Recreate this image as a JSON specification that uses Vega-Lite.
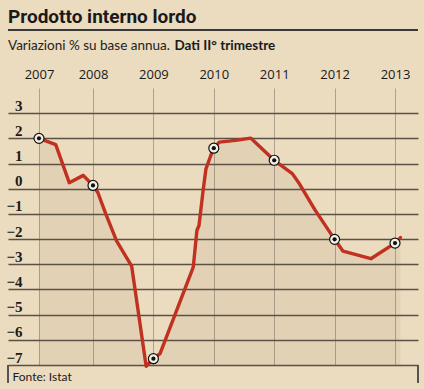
{
  "$schema": "https://vega.github.io/schema/vega-lite/v6.json",
  "autosize": "none",
  "width": 410,
  "height": 277,
  "padding": {"left": 8, "top": 88, "right": 6, "bottom": 24},
  "background": "#ebdbbf",
  "title": {
    "text": "Prodotto interno lordo",
    "subtitle": "Variazioni % su base annua.",
    "anchor": "start",
    "frame": "group",
    "font": "Roboto",
    "fontSize": 19,
    "fontWeight": "bold",
    "color": "#1a1a1a",
    "subtitleFont": "Lato",
    "subtitleFontSize": 13.5,
    "subtitleColor": "#222222",
    "subtitlePadding": 12,
    "offset": -23
  },
  "config": {"view": {"stroke": null}},
  "data": {
    "values": [
      {"anno": 2007.0, "pil": 2.0},
      {"anno": 2007.31, "pil": 1.75},
      {"anno": 2007.56, "pil": 0.24},
      {"anno": 2007.82, "pil": 0.53},
      {"anno": 2008.0, "pil": 0.13},
      {"anno": 2008.08, "pil": -0.15},
      {"anno": 2008.21, "pil": -0.99},
      {"anno": 2008.39, "pil": -2.07},
      {"anno": 2008.64, "pil": -3.07},
      {"anno": 2008.88, "pil": -7.05},
      {"anno": 2009.0, "pil": -6.75},
      {"anno": 2009.11, "pil": -6.55},
      {"anno": 2009.66, "pil": -3.11},
      {"anno": 2009.72, "pil": -1.66},
      {"anno": 2009.755, "pil": -1.46},
      {"anno": 2009.82, "pil": -0.13},
      {"anno": 2009.87, "pil": 0.79},
      {"anno": 2009.95, "pil": 1.32},
      {"anno": 2010.0, "pil": 1.61},
      {"anno": 2010.09, "pil": 1.85},
      {"anno": 2010.36, "pil": 1.92},
      {"anno": 2010.61, "pil": 2.01},
      {"anno": 2011.0, "pil": 1.13},
      {"anno": 2011.3, "pil": 0.6},
      {"anno": 2011.4, "pil": 0.26},
      {"anno": 2011.68, "pil": -0.86},
      {"anno": 2012.0, "pil": -2.01},
      {"anno": 2012.14, "pil": -2.48},
      {"anno": 2012.6, "pil": -2.78},
      {"anno": 2013.0, "pil": -2.16},
      {"anno": 2013.09, "pil": -1.94}
    ]
  },
  "encoding": {
    "x": {
      "field": "anno",
      "type": "quantitative",
      "scale": {"domain": [2006.43, 2007, 2008, 2013, 2013.38], "range": [0, 31, 85, 387, 410], "nice": false, "zero": false},
      "axis": {
        "orient": "top",
        "values": [2007, 2008, 2009, 2010, 2011, 2012, 2013],
        "format": "d",
        "labelFont": "Open Sans",
        "labelFontSize": 13,
        "labelColor": "#1a1a1a",
        "labelPadding": 7,
        "labelFlush": false,
        "ticks": false,
        "domain": false,
        "grid": true,
        "gridColor": "#9d917f",
        "gridWidth": 0.8,
        "title": "Dati II° trimestre",
        "titleFont": "Lato",
        "titleFontSize": 13.5,
        "titleFontWeight": "bold",
        "titleColor": "#1a1a1a",
        "titleX": 166,
        "titleY": -39,
        "titleAlign": "left",
        "titleBaseline": "alphabetic"
      }
    },
    "y": {
      "field": "pil",
      "type": "quantitative",
      "scale": {"domain": [-7, 4], "nice": false, "zero": false},
      "axis": {
        "values": [-7, -6, -5, -4, -3, -2, -1, 0, 1, 2, 3],
        "labelFont": "Liberation Serif",
        "labelFontSize": 15,
        "labelFontWeight": "bold",
        "labelColor": "#1a1a1a",
        "labelAlign": "right",
        "labelBaseline": "alphabetic",
        "labelPadding": -14,
        "labelOffset": -3,
        "ticks": false,
        "domain": false,
        "grid": true,
        "gridColor": "#5a5046",
        "gridWidth": 1.3,
        "title": "Fonte: Istat",
        "titleAngle": 0,
        "titleX": 4,
        "titleY": 288,
        "titleAlign": "left",
        "titleBaseline": "middle",
        "titleFont": "Lato",
        "titleFontSize": 12,
        "titleFontWeight": "normal",
        "titleColor": "#1a1a1a"
      }
    }
  },
  "layer": [
    {
      "mark": {"type": "area", "color": "#7a6543", "opacity": 0.08},
      "encoding": {"y2": {"datum": -7}}
    },
    {
      "mark": {"type": "line", "color": "#c0311f", "strokeWidth": 3.4, "strokeJoin": "round", "strokeCap": "round"}
    },
    {
      "transform": [{"filter": "datum.anno % 1 === 0"}],
      "mark": {"type": "point", "shape": "circle", "filled": true, "fill": "#f5f0e6", "stroke": "#111111", "strokeWidth": 1.2, "size": 100, "opacity": 1}
    },
    {
      "transform": [{"filter": "datum.anno % 1 === 0"}],
      "mark": {"type": "point", "shape": "circle", "filled": true, "color": "#111111", "size": 18, "opacity": 1}
    },
    {
      "mark": {"type": "rule", "color": "#3a3a3a", "strokeWidth": 1},
      "encoding": {
        "x": {"datum": 2006.43, "type": "quantitative"},
        "x2": {"datum": 2013.38},
        "y": {"datum": 6.3, "type": "quantitative"}
      }
    },
    {
      "mark": {"type": "rule", "color": "#555555", "strokeWidth": 1},
      "encoding": {
        "x": {"datum": 2006.43, "type": "quantitative"},
        "y": {"datum": -7, "type": "quantitative"},
        "y2": {"datum": -7.68}
      }
    },
    {
      "mark": {"type": "rule", "color": "#555555", "strokeWidth": 1},
      "encoding": {
        "x": {"datum": 2013.38, "type": "quantitative"},
        "y": {"datum": -7, "type": "quantitative"},
        "y2": {"datum": -7.68}
      }
    }
  ]
}
